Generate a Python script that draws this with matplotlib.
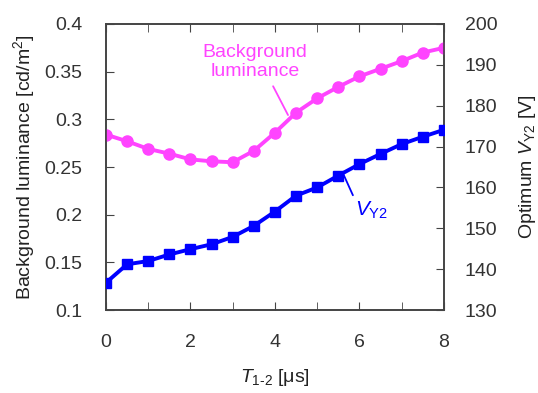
import matplotlib
matplotlib.use("Agg")
import matplotlib.pyplot as plt
from matplotlib.ticker import MultipleLocator

plt.rcParams['font.family'] = ['Liberation Sans', 'DejaVu Sans']
plt.rcParams['mathtext.fontset'] = 'custom'
plt.rcParams['mathtext.rm'] = 'Liberation Sans'
plt.rcParams['mathtext.it'] = 'Liberation Sans:italic'

t = [0, 0.5, 1, 1.5, 2, 2.5, 3, 3.5, 4, 4.5, 5, 5.5, 6, 6.5, 7, 7.5, 8]
luminance = [0.284, 0.277, 0.269, 0.264, 0.258, 0.256, 0.255, 0.267, 0.286, 0.307,
             0.322, 0.334, 0.345, 0.353, 0.361, 0.370, 0.375]
vy2 = [136.7, 141.2, 142.0, 143.6, 144.9, 146.1, 147.9, 150.6, 154.1, 158.0,
       160.0, 162.9, 165.7, 168.2, 170.6, 172.4, 174.1]

x_ticks = [0, 2, 4, 6, 8]
left_ticks = [0.1, 0.15, 0.2, 0.25, 0.3, 0.35, 0.4]
left_labels = ['0.1', '0.15', '0.2', '0.25', '0.3', '0.35', '0.4']
right_ticks = [130, 140, 150, 160, 170, 180, 190, 200]

pink = '#ff44ff'
blue = '#0000ff'

fig = plt.figure(figsize=(5.38, 3.93), dpi=100)
ax = fig.add_axes([0.197, 0.211, 0.628, 0.728])
ax2 = ax.twinx()

ax.plot(t, luminance, color=pink, lw=2.8, marker='o', ms=8, zorder=3)
ax2.plot(t, vy2, color=blue, lw=2.8, marker='s', ms=7.5, zorder=3)

ax.set_xlim(0, 8)
ax.set_ylim(0.1, 0.4)
ax2.set_ylim(130, 200)
ax.set_xticks(x_ticks)
ax.xaxis.set_minor_locator(MultipleLocator(1))
ax.set_yticks(left_ticks)
ax.set_yticklabels(left_labels)
ax2.set_yticks(right_ticks)

fs = 14
tc = '#333333'
ax.tick_params(axis='x', which='both', direction='in', top=True, bottom=True,
               labelsize=fs, labelcolor=tc, color='#444444', pad=17, length=6)
ax.tick_params(axis='y', direction='in', left=True, right=False, length=6,
               labelsize=fs, labelcolor=tc, color='#444444', pad=17)
ax2.tick_params(axis='y', direction='in', right=True, length=6,
                labelsize=fs, labelcolor=tc, color='#444444', pad=15)
for a in (ax, ax2):
    for s in a.spines.values():
        s.set_color('#444444')
        s.set_linewidth(1.2)

ax.set_xlabel(r'$T_{1\text{-}2}$ [μs]', fontsize=fs, color='#222222', labelpad=12)
ax.set_ylabel('Background luminance [cd/m$^2$]', fontsize=fs, color='#222222', labelpad=5)
ax2.set_ylabel(r'Optimum $V_{\mathrm{Y2}}$ [V]', fontsize=fs, color='#222222', labelpad=14)

ax.annotate('Background\nluminance', xy=(4.31, 0.3045), xytext=(3.53, 0.360),
            color=pink, fontsize=fs, ha='center', va='center', linespacing=1.1,
            arrowprops=dict(arrowstyle='-', color=pink, lw=1.3, shrinkA=3, shrinkB=0,
                            relpos=(0.64, 0.0)))
ax2.annotate(r'$V_{\mathrm{Y2}}$', xy=(5.61, 163.5), xytext=(5.89, 154.5),
             color=blue, fontsize=fs + 1, ha='left', va='center',
             arrowprops=dict(arrowstyle='-', color=blue, lw=1.3, shrinkA=1, shrinkB=0,
                             relpos=(0.0, 1.0)))

fig.savefig('out.png', dpi=100)
